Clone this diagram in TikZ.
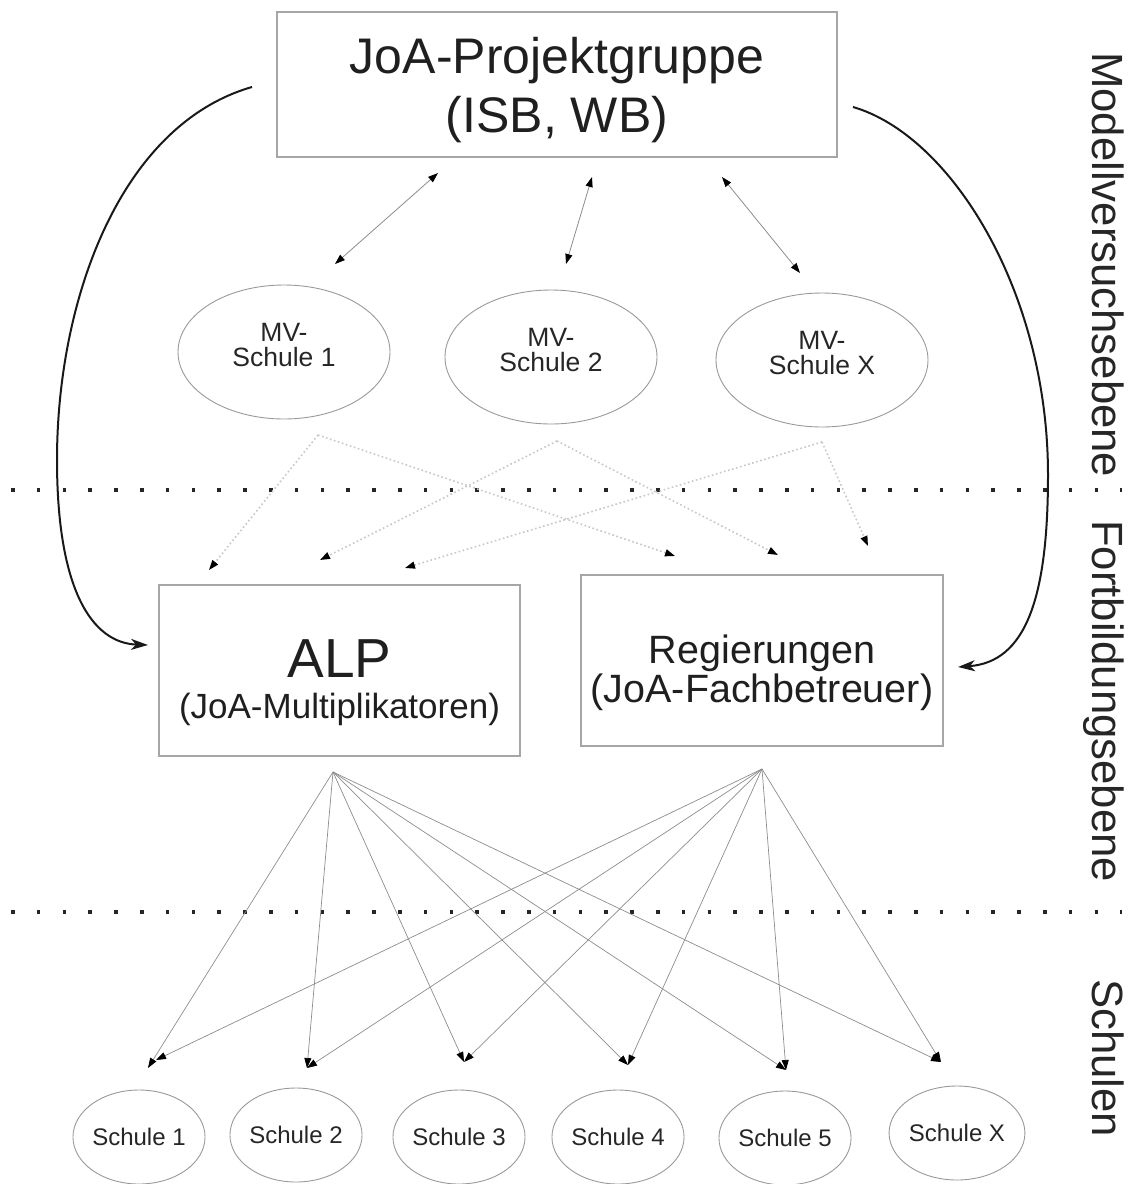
\documentclass[tikz,border=0pt]{standalone}
\usepackage{fontspec}
\setmainfont{Liberation Sans}
\usetikzlibrary{arrows.meta,shapes.geometric}
\begin{document}
\begin{tikzpicture}[x=1pt,y=-1pt,
  box/.style={draw=black!35, line width=1.4pt, rectangle, inner sep=0pt, align=center, text=black!88},
  mv/.style={draw=black!40, line width=0.9pt, ellipse, minimum width=212pt, minimum height=134pt, inner sep=0pt, align=center, text=black!85, font=\fontsize{26.5}{25}\selectfont},
  sch/.style={draw=black!40, line width=0.9pt, ellipse, minimum width=118pt, minimum height=94pt, inner sep=0pt, text=black!85, font=\fontsize{24}{26}\selectfont},
  dbl/.style={draw=black!45, line width=0.8pt, {Triangle[length=10pt,width=7pt,color=black]}-{Triangle[length=10pt,width=7pt,color=black]}},
  fanarrow/.style={draw=black!45, line width=0.7pt, -{Triangle[length=10pt,width=7pt,color=black]}},
  dotarrow/.style={draw=black!22, line width=1.6pt, dash pattern=on 1.6pt off 2.6pt, -{Triangle[length=10pt,width=7pt,color=black]}},
  curvearrow/.style={draw=black!90, line width=2pt, -{Stealth[length=17pt,width=11pt,inset=5pt]}},
  sepline/.style={draw=black!85, line width=4pt, dash pattern=on 3.5pt off 22.3pt},
  sidelabel/.style={rotate=-90, anchor=base west, inner sep=0pt, text=black!85, font=\fontsize{43.7}{44}\selectfont}
]
\useasboundingbox (0,0) rectangle (1138,1184);

% separators
\draw[sepline] (11,490) -- (1122,490);
\draw[sepline] (11,912) -- (1122,912);

% side labels
\node[sidelabel] (lab1) at (1092,52) {Modellversuchsebene};
\node[sidelabel] (lab2) at (1092,520) {Fortbildungsebene};
\node[sidelabel] (lab3) at (1092,979) {Schulen};

% main boxes
\node[box, minimum width=560pt, minimum height=145pt, font=\fontsize{50}{59}\selectfont] (pg) at (557,84.5) {\rule{0pt}{46.5pt}JoA-Projektgruppe\\(ISB, WB)};
\node[box, minimum width=361pt, minimum height=171pt, font=\fontsize{35}{41}\selectfont] (alp) at (339.5,670.5) {\rule{0pt}{61.4pt}{\fontsize{55}{41}\selectfont ALP}\\(JoA-Multiplikatoren)};
\node[box, minimum width=362pt, minimum height=171pt, font=\fontsize{39.5}{39}\selectfont] (reg) at (762,660.5) {\rule{0pt}{52.3pt}Regierungen\\(JoA-Fachbetreuer)};

% MV schools
\node[mv] (mv1) at (284,352) {MV-\\Schule 1\rule[-15pt]{0pt}{15pt}};
\node[mv] (mv2) at (551,357) {MV-\\Schule 2\rule[-15pt]{0pt}{15pt}};
\node[mv] (mvx) at (822,360) {MV-\\Schule X\rule[-15pt]{0pt}{15pt}};

% schools
\node[sch] (s1) at (139,1137) {Schule 1};
\node[sch] (s2) at (296,1135) {Schule 2};
\node[sch] (s3) at (459,1137) {Schule 3};
\node[sch] (s4) at (618,1137) {Schule 4};
\node[sch] (s5) at (785,1138) {Schule 5};
\node[sch] (sx) at (957,1133) {Schule X};

% coordinates for connector ends
\coordinate (d1a) at (438,173); \coordinate (d1b) at (335,264);
\coordinate (d2a) at (592,177); \coordinate (d2b) at (566,264);
\coordinate (d3a) at (722,177); \coordinate (d3b) at (800,273);

\coordinate (o1) at (318,435); \coordinate (o2) at (557,441); \coordinate (ox) at (822,442);
\coordinate (a1) at (209,570); \coordinate (a2) at (320,560); \coordinate (a3) at (405,568);
\coordinate (r1) at (675,556); \coordinate (r2) at (778,555); \coordinate (r3) at (868,546);

\coordinate (cls) at (252,87); \coordinate (cle) at (148,645);
\coordinate (crs) at (853,107); \coordinate (cre) at (958,667);

\coordinate (fa) at (333,772); \coordinate (fr) at (762,769);
\coordinate (t1a) at (148,1068); \coordinate (t1r) at (156,1060);
\coordinate (t2) at (307,1068); \coordinate (t3) at (464,1062);
\coordinate (t4) at (628,1065); \coordinate (t5) at (786,1070);
\coordinate (tx) at (941,1062);

% double arrows
\draw[dbl] (d1a) -- (d1b);
\draw[dbl] (d2a) -- (d2b);
\draw[dbl] (d3a) -- (d3b);

% dotted arrows
\draw[dotarrow] (o1) -- (a1);
\draw[dotarrow] (o1) -- (r1);
\draw[dotarrow] (o2) -- (a2);
\draw[dotarrow] (o2) -- (r2);
\draw[dotarrow] (ox) -- (a3);
\draw[dotarrow] (ox) -- (r3);

% curved arrows
\draw[curvearrow] (cls) .. controls (120,125) and (57,300) .. (57,460) .. controls (57,590) and (92,643) .. (cle);
\draw[curvearrow] (crs) .. controls (950,135) and (1048,290) .. (1048,475) .. controls (1048,600) and (1025,662) .. (cre);

% fan to schools
\draw[fanarrow] (fa) -- (t1a);
\draw[fanarrow] (fa) -- (t2);
\draw[fanarrow] (fa) -- (t3);
\draw[fanarrow] (fa) -- (t4);
\draw[fanarrow] (fa) -- (t5);
\draw[fanarrow] (fa) -- (tx);
\draw[fanarrow] (fr) -- (t1r);
\draw[fanarrow] (fr) -- (t2);
\draw[fanarrow] (fr) -- (t3);
\draw[fanarrow] (fr) -- (t4);
\draw[fanarrow] (fr) -- (t5);
\draw[fanarrow] (fr) -- (tx);
\end{tikzpicture}
\end{document}
